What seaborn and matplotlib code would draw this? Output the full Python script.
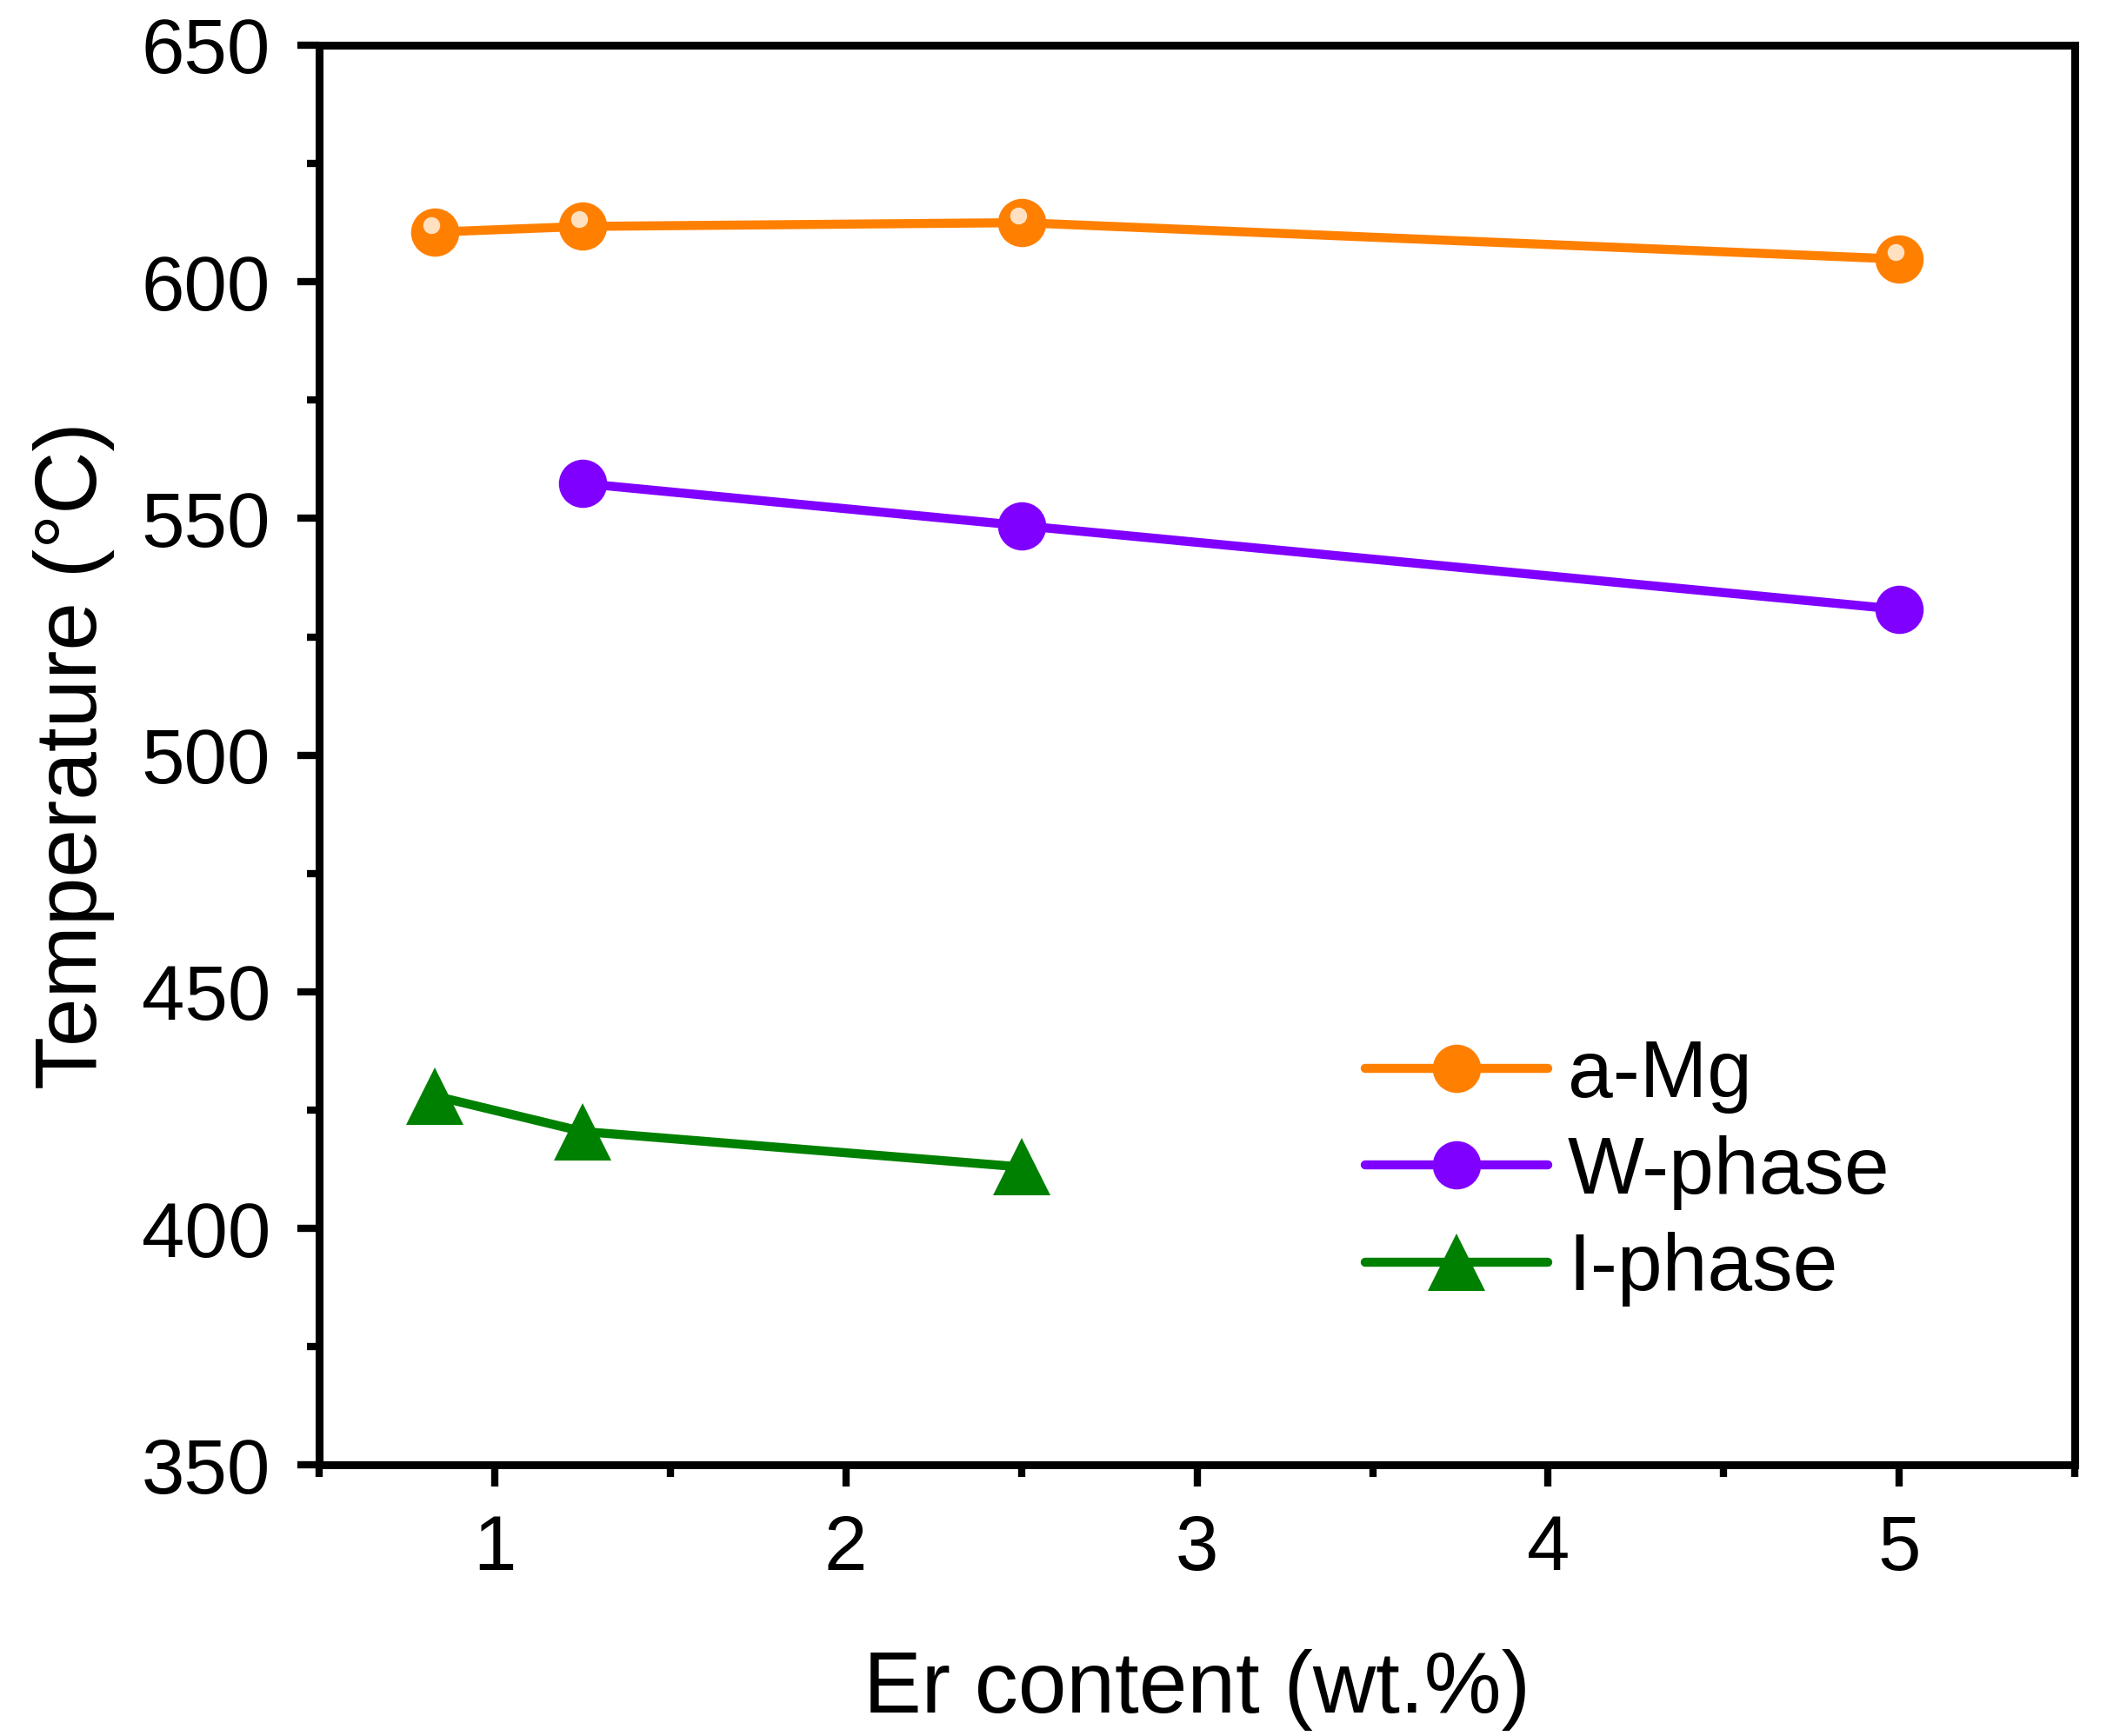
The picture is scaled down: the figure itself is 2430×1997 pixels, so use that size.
import matplotlib
matplotlib.use("Agg")
import matplotlib.pyplot as plt
import seaborn as sns
from matplotlib.ticker import MultipleLocator

# data
amg_x = [0.83, 1.25, 2.5, 5.0]
amg_y = [610.5, 611.7, 612.5, 604.8]
w_x = [1.25, 2.5, 5.0]
w_y = [557.4, 548.5, 530.8]
i_x = [0.83, 1.25, 2.5]
i_y = [428.0, 420.5, 413.0]
labels = ["a-Mg", "W-phase", "I-phase"]
colors = ["#FF8000", "#8000FF", "#008000"]

sns.set_style("ticks")
plt.rcParams["font.family"] = ["Liberation Sans", "DejaVu Sans"]
plt.rcParams["text.color"] = "black"
plt.rcParams["axes.labelcolor"] = "black"
plt.rcParams["xtick.color"] = "black"
plt.rcParams["ytick.color"] = "black"

fig = plt.figure(figsize=(24.3, 19.97), dpi=100)
ax = fig.add_axes([0.151, 0.156, 0.831, 0.818])

lw = 7.5
sns.lineplot(x=amg_x, y=amg_y, ax=ax, color=colors[0], marker="o",
             markersize=40, markeredgewidth=0, label=labels[0])
sns.lineplot(x=w_x, y=w_y, ax=ax, color=colors[1], marker="o",
             markersize=40, markeredgewidth=0, label=labels[1])
sns.lineplot(x=i_x, y=i_y, ax=ax, color=colors[2], marker="^",
             markersize=48, markeredgewidth=0, label=labels[2])
for ln in ax.lines:
    ln.set_linewidth(lw)

# shiny highlight on the a-Mg spheres
ax.plot([v - 0.01 for v in amg_x], [v + 1.5 for v in amg_y], ls="none",
        marker="o", markersize=14, color="#FFE6CC", markeredgewidth=0, alpha=0.95)

ax.set_xlim(0.5, 5.5)
ax.set_ylim(350, 650)
ax.xaxis.set_major_locator(MultipleLocator(1))
ax.xaxis.set_minor_locator(MultipleLocator(0.5))
ax.yaxis.set_major_locator(MultipleLocator(50))
ax.yaxis.set_minor_locator(MultipleLocator(25))

for s in ax.spines.values():
    s.set_linewidth(6.5)
    s.set_color("black")
    s.set_visible(True)
ax.tick_params(which="major", length=18, width=6, direction="out",
               labelsize=64, pad=22, top=False, right=False)
ax.tick_params(which="minor", length=10, width=6, direction="out",
               top=False, right=False)

ax.set_xlabel("Er content (wt.%)", fontsize=72, labelpad=52)
ax.set_ylabel("Temperature (°C)", fontsize=72, labelpad=22)

leg = ax.legend(loc="center left", bbox_to_anchor=(0.596, 0.206), frameon=False,
                fontsize=67, handlelength=2.25, handletextpad=0.25,
                labelspacing=0.27, borderpad=0, borderaxespad=0, markerscale=1)
for h in leg.get_lines():
    h.set_linewidth(lw)

fig.savefig("out.png", dpi=100)
